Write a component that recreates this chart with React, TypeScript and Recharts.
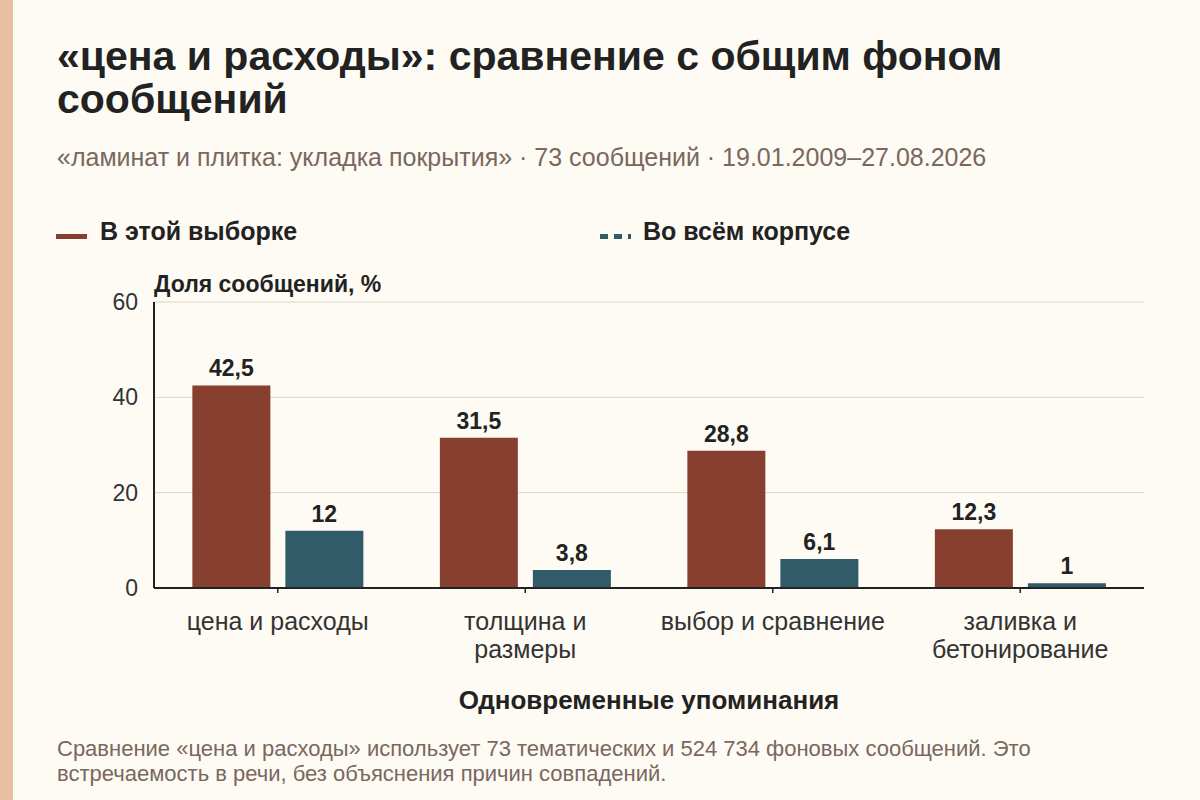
import React from 'react';
import { BarChart, Bar, XAxis, YAxis, CartesianGrid, LabelList } from 'recharts';

const CATEGORIES = ['цена и расходы', 'толщина и\nразмеры', 'выбор и сравнение', 'заливка и\nбетонирование'];
const SAMPLE_SHARE = [42.5, 31.5, 28.8, 12.3];
const CORPUS_SHARE = [12, 3.8, 6.1, 1];
const Y_TICKS = [0, 20, 40, 60];

const RED = '#873F2F';
const BLUE = '#325B69';
const BG = '#FDFBF4';
const INK = '#222222';
const MUTED = '#7A675E';
const FONT = '"Liberation Sans", Arial, sans-serif';

const data = CATEGORIES.map((name, i) => ({
  name,
  sample: SAMPLE_SHARE[i],
  corpus: CORPUS_SHARE[i],
}));

const fmt = (v: any) => String(v).replace('.', ',');

function CategoryTick({ x, y, payload }: any) {
  const lines = String(payload.value).split('\n');
  return (
    <text x={x} y={y + 35} textAnchor="middle" fill="#333" fontSize={25} fontFamily={FONT}>
      {lines.map((line, i) => (
        <tspan key={i} x={x} dy={i === 0 ? 0 : 28}>{line}</tspan>
      ))}
    </text>
  );
}

export default function App() {
  return (
    <div style={{ position: 'absolute', left: 0, top: 0, width: 1200, height: 800, background: BG, fontFamily: FONT, overflow: 'hidden' }}>
      <div style={{ position: 'absolute', left: 0, top: 0, width: 13, height: 800, background: '#E8BEA3' }} />

      <div style={{ position: 'absolute', left: 57, top: 35, width: 1130, fontSize: 41, fontWeight: 700, lineHeight: '43px', color: INK, whiteSpace: 'nowrap' }}>
        «цена и расходы»: сравнение с общим фоном<br />сообщений
      </div>
      <div style={{ position: 'absolute', left: 57, top: 143, fontSize: 25, lineHeight: '29px', color: MUTED, whiteSpace: 'nowrap' }}>
        «ламинат и плитка: укладка покрытия» · 73 сообщений · 19.01.2009–27.08.2026
      </div>

      {/* legend */}
      <svg style={{ position: 'absolute', left: 56, top: 234 }} width={31} height={5}>
        <line x1={0} y1={2.5} x2={31} y2={2.5} stroke={RED} strokeWidth={5} />
      </svg>
      <div style={{ position: 'absolute', left: 100, top: 217, fontSize: 25, lineHeight: '29px', fontWeight: 700, color: INK, whiteSpace: 'nowrap' }}>
        В этой выборке
      </div>
      <svg style={{ position: 'absolute', left: 600, top: 233.5 }} width={31} height={5}>
        <line x1={0} y1={2.5} x2={31} y2={2.5} stroke={BLUE} strokeWidth={5} strokeDasharray="8 6" />
      </svg>
      <div style={{ position: 'absolute', left: 643, top: 217, fontSize: 25, lineHeight: '29px', fontWeight: 700, color: INK, whiteSpace: 'nowrap' }}>
        Во всём корпусе
      </div>

      <div style={{ position: 'absolute', left: 154, top: 271, fontSize: 23, lineHeight: '26px', fontWeight: 700, color: INK, whiteSpace: 'nowrap' }}>
        Доля сообщений, %
      </div>

      <div style={{ position: 'absolute', left: 0, top: 0 }}>
        <BarChart
          width={1200}
          height={800}
          data={data}
          margin={{ top: 302, right: 56, bottom: 152, left: 94 }}
          barCategoryGap="15.5%"
          barGap={15}
        >
          <CartesianGrid vertical={false} stroke="#D8D5CD" strokeWidth={1} />
          <XAxis
            dataKey="name"
            height={60}
            tick={<CategoryTick />}
            tickLine={{ stroke: '#222', strokeWidth: 1.5 }}
            tickSize={5}
            axisLine={{ stroke: '#222', strokeWidth: 2 }}
            interval={0}
          />
          <YAxis
            width={60}
            domain={[0, 60]}
            ticks={Y_TICKS}
            tickLine={false}
            axisLine={{ stroke: '#222', strokeWidth: 2 }}
            tick={{ fill: '#333', fontSize: 23, fontFamily: FONT }}
            tickMargin={10}
          />
          <Bar dataKey="sample" fill={RED} isAnimationActive={false}>
            <LabelList dataKey="sample" position="top" offset={9} formatter={fmt} fill={INK} fontSize={23} fontWeight={700} fontFamily={FONT} />
          </Bar>
          <Bar dataKey="corpus" fill={BLUE} isAnimationActive={false}>
            <LabelList dataKey="corpus" position="top" offset={9} formatter={fmt} fill={INK} fontSize={23} fontWeight={700} fontFamily={FONT} />
          </Bar>
        </BarChart>
      </div>

      <div style={{ position: 'absolute', left: 154, width: 990, top: 685, textAlign: 'center', fontSize: 26, lineHeight: '30px', fontWeight: 700, color: INK }}>
        Одновременные упоминания
      </div>

      <div style={{ position: 'absolute', left: 57, top: 736, width: 1130, fontSize: 22, lineHeight: '25px', color: MUTED, whiteSpace: 'nowrap' }}>
        Сравнение «цена и расходы» использует 73 тематических и 524 734 фоновых сообщений. Это<br />
        встречаемость в речи, без объяснения причин совпадений.
      </div>
    </div>
  );
}
